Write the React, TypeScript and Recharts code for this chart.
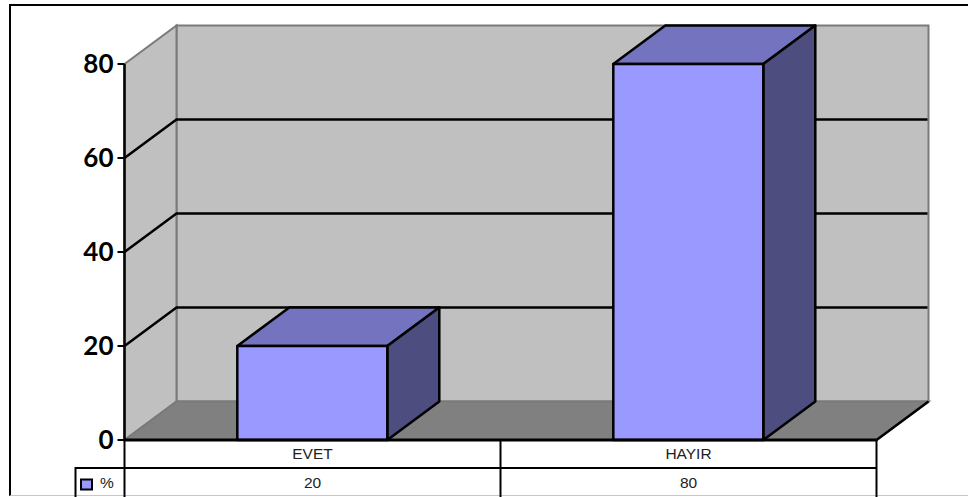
import { Bar, BarChart, ReferenceArea, XAxis, YAxis } from "recharts";

const categories = ['EVET', 'HAYIR']
const seriesName = '%'
const values = [20, 80]
const yTicks = [0, 20, 40, 60, 80]
const gridValues = [20, 40, 60]

const data = categories.map((name, i) => ({ name, value: values[i] }))

// oblique offset of the back wall
const DEPTH_X = 52
const DEPTH_Y = 38.5

const ROW_H = 28
const KEY_CELL_W = 49
const LINE_W = 2.5

const WALL = '#C0C0C0'
const FLOOR = '#808080'
const EDGE = '#7A7A7A'
const FRONT = '#9999FF'
const TOP = '#7373BF'
const SIDE = '#4D4D80'
const TABLE_FONT = '"Liberation Sans", Arial, sans-serif'

const pts = (...p: number[][]) => p.map(q => q.join(',')).join(' ')

// back wall, left wall and floor of the box
const Walls = ({ x, y, width, height }: any) => {
    const r = x + width
    const b = y + height
    const dx = DEPTH_X
    const dy = DEPTH_Y
    return (
        <g>
            <polygon points={pts([x + dx, y - dy], [r + dx, y - dy], [r + dx, b - dy], [x + dx, b - dy])} fill={WALL} stroke={EDGE} strokeWidth={2} />
            <polygon points={pts([x, y], [x + dx, y - dy], [x + dx, b - dy], [x, b])} fill={WALL} stroke={EDGE} strokeWidth={2} />
            <polygon points={pts([x, b], [x + dx, b - dy], [r + dx, b - dy], [r, b])} fill={FLOOR} stroke={EDGE} strokeWidth={2} />
            <line x1={r} y1={b} x2={r + dx} y2={b - dy} stroke="#000" strokeWidth={LINE_W} />
        </g>
    )
}

// gridline along the left wall and across the back wall, at the lower edge of its area
const GridLine = ({ x, y, width, height }: any) => {
    const b = y + height
    return (
        <polyline
            points={pts([x, b], [x + DEPTH_X, b - DEPTH_Y], [x + width + DEPTH_X - 1, b - DEPTH_Y])}
            fill="none"
            stroke="#000"
            strokeWidth={LINE_W}
        />
    )
}

const Box3D = ({ x, y, width, height }: any) => {
    const r = x + width
    const b = y + height
    const dx = DEPTH_X
    const dy = DEPTH_Y
    return (
        <g stroke="#000" strokeWidth={LINE_W} strokeLinejoin="round">
            <polygon points={pts([x, y], [x + dx, y - dy], [r + dx, y - dy], [r, y])} fill={TOP} />
            <polygon points={pts([r, y], [r + dx, y - dy], [r + dx, b - dy], [r, b])} fill={SIDE} />
            <rect x={x} y={y} width={width} height={height} fill={FRONT} />
        </g>
    )
}

// data table under the plot: category row, value row and the series key
const TableTick = ({ x, y, index, payload, cellW }: any) => {
    const left = x - cellW / 2
    const right = x + cellW / 2
    const textProps = { fontFamily: TABLE_FONT, fontSize: 15.5, fill: '#222', textAnchor: 'middle' as const }
    return (
        <g>
            <line x1={right} y1={y} x2={right} y2={y + ROW_H * 2 + 2} stroke="#000" strokeWidth={2} />
            <line x1={left} y1={y + ROW_H} x2={right} y2={y + ROW_H} stroke="#000" strokeWidth={2} />
            <text x={x} y={y + 19} {...textProps}>{payload.value}</text>
            <text x={x} y={y + ROW_H + 20} {...textProps}>{values[index]}</text>
            {index === 0 && (
                <g>
                    <line x1={left} y1={y} x2={left} y2={y + ROW_H * 2 + 2} stroke="#000" strokeWidth={2} />
                    <polyline
                        points={pts([left, y + ROW_H], [left - KEY_CELL_W, y + ROW_H], [left - KEY_CELL_W, y + ROW_H * 2 + 2])}
                        fill="none"
                        stroke="#000"
                        strokeWidth={2}
                    />
                    <rect x={left - 43.5} y={y + 39.5} width={11} height={10} fill={FRONT} stroke="#000" strokeWidth={2} />
                    <text x={left - 17.5} y={y + ROW_H + 20} {...textProps}>{seriesName}</text>
                </g>
            )}
        </g>
    )
}

export default function App() {
    return (
        <div style={{ position: 'absolute', left: 0, top: 0, width: 968, height: 497, overflow: 'hidden', background: '#fff' }}>
            <div style={{
                position: 'absolute',
                left: 9,
                top: 4,
                width: 980,
                height: 489,
                borderTop: '2.5px solid #000',
                borderLeft: '2.5px solid #000',
                borderBottom: '1px solid #C8C8C8',
                boxSizing: 'content-box',
            }} />
            <div style={{ position: 'absolute', left: 0, top: 0 }}>
                <BarChart
                    width={968}
                    height={497}
                    data={data}
                    margin={{ top: 64, right: 91.5, bottom: 0, left: 0 }}
                    barCategoryGap="30%"
                >
                    <ReferenceArea y1={0} y2={80} shape={<Walls />} />
                    {gridValues.map(v => (
                        <ReferenceArea key={v} y1={v} y2={80} shape={<GridLine />} />
                    ))}
                    <XAxis
                        dataKey="name"
                        height={57}
                        interval={0}
                        tickLine={false}
                        tickSize={0}
                        tickMargin={0}
                        axisLine={{ stroke: '#000', strokeWidth: 3 }}
                        tick={<TableTick cellW={376} />}
                    />
                    <YAxis
                        width={124.5}
                        domain={[0, 80]}
                        ticks={yTicks}
                        interval={0}
                        tickSize={7}
                        tickMargin={4}
                        axisLine={{ stroke: '#000', strokeWidth: 2.5 }}
                        tickLine={{ stroke: '#000', strokeWidth: 2 }}
                        tick={{ fontFamily: 'Lato, sans-serif', fontWeight: 700, fontSize: 26, fill: '#000' }}
                    />
                    <Bar dataKey="value" shape={<Box3D />} isAnimationActive={false} />
                </BarChart>
            </div>
        </div>
    )
}
